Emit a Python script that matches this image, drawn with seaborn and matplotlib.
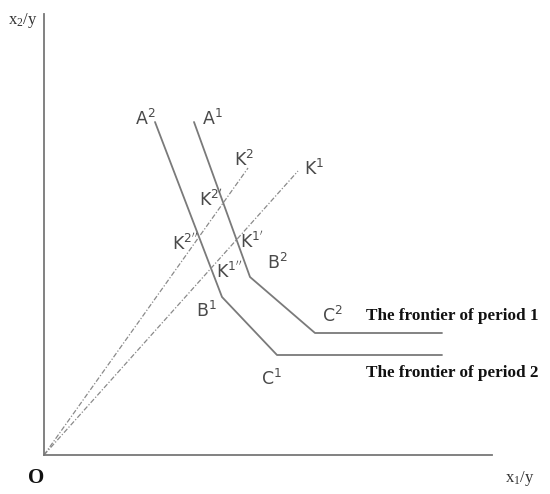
import numpy as np
import pandas as pd
import matplotlib
matplotlib.use("Agg")
import matplotlib.pyplot as plt
import seaborn as sns

# frontier of period 1: A1 -> B2 -> C2 -> flat tail
frontier1X = [15.0, 20.6, 27.1, 39.8]
frontier1Y = [33.3, 17.8, 12.2, 12.2]
# frontier of period 2: A2 -> B1 -> C1 -> flat tail
frontier2X = [11.1, 17.8, 23.3, 39.8]
frontier2Y = [33.3, 15.8, 10.0, 10.0]
# rays from the origin
rayK1X = [0.0, 25.4]
rayK1Y = [0.0, 28.4]
rayK2X = [0.0, 20.4]
rayK2Y = [0.0, 28.7]

pointBase = ["A", "A", "K", "K", "K", "K", "K", "K", "B", "B", "C", "C"]
pointSup = ["2", "1", "2", "1", "2'", "2''", "1'", "1''", "2", "1", "2", "1"]
labelX = [9.1, 15.8, 19.0, 26.0, 15.5, 12.8, 19.6, 17.2, 22.3, 15.2, 27.8, 21.7]
labelY = [33.0, 33.0, 28.9, 28.0, 24.9, 20.5, 20.7, 17.7, 18.6, 13.8, 13.3, 7.0]

frontierNames = ["The frontier of period 1", "The frontier of period 2"]
frontierNameY = [13.5, 7.8]

sns.set_style("white")
plt.rcParams["font.family"] = ["DejaVu Sans"]
plt.rcParams["mathtext.default"] = "regular"

fig = plt.figure(figsize=(5.5, 4.94), dpi=100)
ax = fig.add_axes([44 / 550, 39 / 494, 448 / 550, 441 / 494])

lineColor = "#7a7a7a"
df1 = pd.DataFrame({"x": frontier1X, "y": frontier1Y})
df2 = pd.DataFrame({"x": frontier2X, "y": frontier2Y})
sns.lineplot(data=df1, x="x", y="y", sort=False, color=lineColor, linewidth=1.3, ax=ax)
sns.lineplot(data=df2, x="x", y="y", sort=False, color=lineColor, linewidth=1.3, ax=ax)
for rx, ry in [(rayK1X, rayK1Y), (rayK2X, rayK2Y)]:
    dfr = pd.DataFrame({"x": rx, "y": ry})
    sns.lineplot(data=dfr, x="x", y="y", sort=False, color="#8a8a8a",
                 linewidth=0.9, linestyle=(0, (4, 1.5, 1, 1.5)), ax=ax)

for base, sup, lx, ly in zip(pointBase, pointSup, labelX, labelY):
    ax.text(lx, ly, base + "$^{" + sup.replace("'", r"\mathrm{'}") + "}$",
            fontsize=12.5, color="#4a4a4a", ha="left", va="baseline")

for name, ny in zip(frontierNames, frontierNameY):
    ax.text(32.2, ny, name, fontsize=12.3, fontweight="bold",
            family="Liberation Serif", color="#111111", ha="left", va="baseline")

ax.set_xlim(0, 44.8)
ax.set_ylim(0, 44.1)
ax.set_xticks([])
ax.set_yticks([])
ax.set_xlabel("")
ax.set_ylabel("")
for side in ["top", "right"]:
    ax.spines[side].set_visible(False)
for side in ["left", "bottom"]:
    ax.spines[side].set_color("#777777")
    ax.spines[side].set_linewidth(1.3)

fig.text(28 / 550, 1 - 478 / 494, "O", fontsize=15, fontweight="bold",
         family="Liberation Serif", ha="left", va="center", color="#111111")
fig.text(505 / 550, 1 - 478 / 494, "x$_1$/y", fontsize=12,
         family="Liberation Serif", ha="left", va="center", color="#333333")
fig.text(8 / 550, 1 - 20 / 494, "x$_2$/y", fontsize=12,
         family="Liberation Serif", ha="left", va="center", color="#333333")

fig.savefig("out.png", dpi=100, facecolor="white")
